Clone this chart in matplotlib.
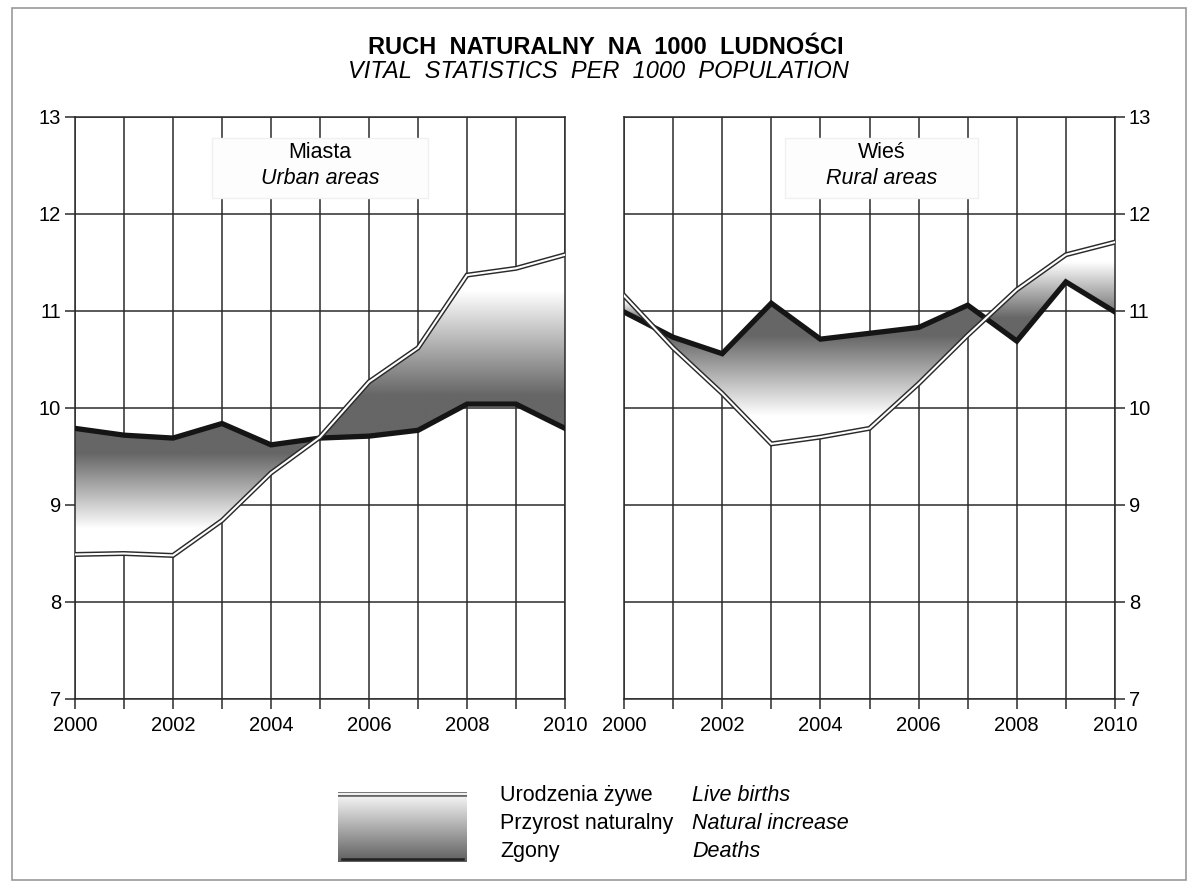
import numpy as np
import matplotlib
matplotlib.use("Agg")
import matplotlib.pyplot as plt
from matplotlib.colors import LinearSegmentedColormap
from matplotlib.patches import PathPatch, Rectangle

plt.rcParams['font.family'] = ['Liberation Sans', 'DejaVu Sans']

# dane
years = [2000, 2001, 2002, 2003, 2004, 2005, 2006, 2007, 2008, 2009, 2010]
urban_births = [8.49, 8.50, 8.48, 8.84, 9.33, 9.70, 10.27, 10.62, 11.37, 11.44, 11.58]
urban_deaths = [9.79, 9.72, 9.69, 9.84, 9.62, 9.69, 9.71, 9.77, 10.04, 10.04, 9.79]
rural_births = [11.16, 10.62, 10.15, 9.63, 9.70, 9.79, 10.25, 10.75, 11.22, 11.58, 11.71]
rural_deaths = [10.99, 10.73, 10.56, 11.08, 10.71, 10.77, 10.83, 11.06, 10.69, 11.30, 10.99]
yticks = [7, 8, 9, 10, 11, 12, 13]
xlabels = [2000, 2002, 2004, 2006, 2008, 2010]

DARK = '#666666'
FS = 14.5   # etykiety osi
FT = 15.5   # pozostale teksty
# gradient: 0 = strona zgonow (ciemna), 1 = strona urodzen (biala)
cmap = LinearSegmentedColormap.from_list(
    'grad', [(0.0, DARK), (0.23, DARK), (0.8, '#ffffff'), (1.0, '#ffffff')])


def gradient_fill(ax, x, b, d):
    x = np.array(x, float)
    b = np.array(b, float)
    d = np.array(d, float)
    for births_up in (True, False):
        mask = b >= d if births_up else b < d
        coll = ax.fill_between(x, b, d, where=mask, interpolate=True, color='none', lw=0)
        for path in coll.get_paths():
            v = path.vertices
            x0, x1 = v[:, 0].min(), v[:, 0].max()
            y0, y1 = v[:, 1].min(), v[:, 1].max()
            if x1 - x0 < 1e-6 or y1 - y0 < 1e-6:
                continue
            g = np.linspace(0, 1, 256).reshape(-1, 1)
            if not births_up:
                g = 1 - g
            im = ax.imshow(g, extent=[x0, x1, y0, y1], origin='lower', cmap=cmap,
                           vmin=0, vmax=1, aspect='auto', zorder=2, interpolation='bilinear')
            patch = PathPatch(path, transform=ax.transData, fc='none', ec='none')
            ax.add_patch(patch)
            im.set_clip_path(patch)


def draw_panel(ax, b, d, l1, l2, box_x, box_w, right=False):
    gradient_fill(ax, years, b, d)
    ax.plot(years, d, color='#151515', lw=3.8, zorder=4, solid_joinstyle='miter')
    ax.plot(years, b, color='#2a2a2a', lw=3.6, zorder=5, solid_joinstyle='miter')
    ax.plot(years, b, color='white', lw=1.5, zorder=6, solid_joinstyle='miter')
    ax.set_xlim(2000, 2010)
    ax.set_ylim(7, 13)
    ax.set_xticks(years)
    ax.set_xticklabels([str(y) if y in xlabels else '' for y in years])
    ax.set_yticks(yticks)
    ax.grid(True, color='#2b2b2b', lw=1.1, zorder=1)
    ax.set_axisbelow(True)
    for s in ax.spines.values():
        s.set_color('#2b2b2b')
        s.set_linewidth(1.1)
    ax.tick_params(axis='x', length=7, width=1.1, color='#2b2b2b', labelsize=FS, pad=5,
                   direction='out')
    if right:
        ax.yaxis.tick_right()
        ax.tick_params(axis='y', length=7, width=1.1, color='#2b2b2b', labelsize=FS,
                       pad=3, direction='out', left=False, right=True)
    else:
        ax.tick_params(axis='y', length=7, width=1.1, color='#2b2b2b', labelsize=FS,
                       pad=3, direction='out')
    ax.add_patch(Rectangle((box_x, 12.165), box_w, 0.615, fc='#fdfdfe',
                           ec='#f0f0f0', lw=1, zorder=7))
    cx = box_x + box_w / 2
    ax.text(cx, 12.63, l1, ha='center', va='center', fontsize=FT, zorder=8)
    ax.text(cx, 12.37, l2, ha='center', va='center', fontsize=FT, style='italic', zorder=8)


fig = plt.figure(figsize=(11.98, 8.90), dpi=100)
fig.patches.append(Rectangle((12 / 1198, 1 - 880 / 890), 1174 / 1198, 872 / 890,
                             transform=fig.transFigure, fc='none', ec='#999999', lw=1.2))

ax1 = fig.add_axes([75 / 1198, 1 - 699 / 890, 490 / 1198, 582 / 890])
ax2 = fig.add_axes([624 / 1198, 1 - 699 / 890, 491 / 1198, 582 / 890])
draw_panel(ax1, urban_births, urban_deaths, 'Miasta', 'Urban areas', 2002.8, 4.4)
draw_panel(ax2, rural_births, rural_deaths, 'Wieś', 'Rural areas', 2003.28, 3.93, right=True)

fig.text(606 / 1198, 1 - 47 / 890, 'RUCH  NATURALNY  NA  1000  LUDNOŚCI', ha='center',
         va='center', fontsize=17, fontweight='bold')
fig.text(598 / 1198, 1 - 72 / 890, 'VITAL  STATISTICS  PER  1000  POPULATION', ha='center',
         va='center', fontsize=17, style='italic')

# legenda
lax = fig.add_axes([338 / 1198, 1 - 863 / 890, 129 / 1198, 73 / 890])
lax.set_xlim(0, 1)
lax.set_ylim(0, 1)
lax.axis('off')
g = np.linspace(0, 1, 256).reshape(-1, 1)
lax.imshow(g, extent=[0, 1, 0.02, 0.95], origin='lower', cmap=LinearSegmentedColormap.from_list(
    'lg', [(0, '#5e5e5e'), (1, '#f8f8f8')]), aspect='auto', zorder=1)
lax.plot([0, 1], [0.95, 0.95], color='#666666', lw=3.4, zorder=2)
lax.plot([0, 1], [0.95, 0.95], color='white', lw=1.3, zorder=3)
lax.plot([0.03, 0.97], [0.05, 0.05], color='#222222', lw=1.8, zorder=3)

rows = [('Urodzenia żywe', 'Live births', 801),
        ('Przyrost naturalny', 'Natural increase', 829),
        ('Zgony', 'Deaths', 857)]
for pl, en, yp in rows:
    fig.text(500 / 1198, 1 - yp / 890, pl, ha='left', va='baseline', fontsize=FT)
    fig.text(692 / 1198, 1 - yp / 890, en, ha='left', va='baseline', fontsize=FT,
             style='italic')

fig.savefig('out.png', dpi=100)
